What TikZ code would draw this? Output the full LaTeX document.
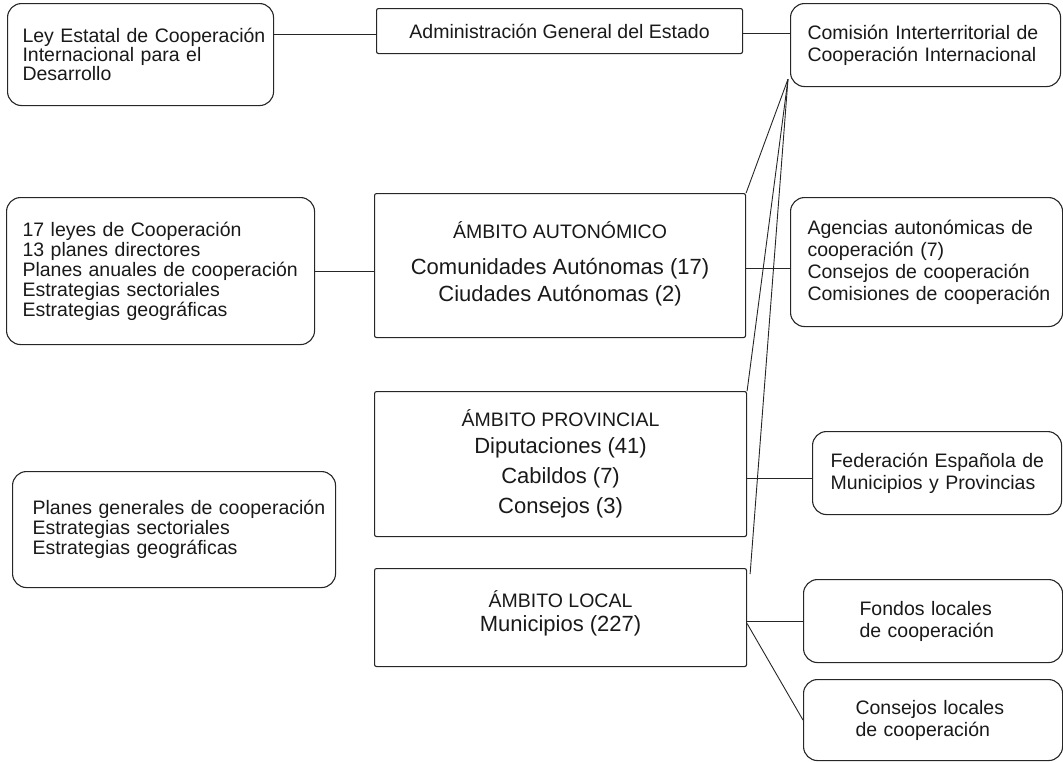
\documentclass[tikz,border=0pt]{standalone}
\usepackage{fontspec}
\setmainfont{Liberation Sans}
% keep each listed line on one row inside a fixed-width box
\newcommand\row[1]{\mbox{#1}}
\begin{document}
\begin{tikzpicture}[x=1pt,y=-1pt,
  body/.style={font=\fontsize{19.5}{20}\selectfont},
  wide/.style={font=\fontsize{19.5}{22}\selectfont},
  rbox/.style={draw=black!85, text=black!90, line width=1.1pt, rounded corners=14pt,
    anchor=north west, align=left, inner ysep=0pt, body},
  sbox/.style={draw=black!85, text=black!90, line width=1.1pt, rounded corners=2pt,
    anchor=north west, align=center, inner sep=0pt, body},
  link/.style={draw=black!85, line width=0.9pt}]
\useasboundingbox (0,0) rectangle (1063,761);

% left column: legal and planning instruments
\node[rbox, font=\fontsize{19.5}{19}\selectfont, inner xsep=15pt, text width=236pt, minimum height=102pt] (ley) at (7,3)
  {\row{Ley Estatal de Cooperación}\\\row{Internacional para el}\\\row{Desarrollo}};
\node[rbox, inner xsep=16pt, text width=276pt, minimum height=147pt] (leyes) at (6,197)
  {\row{17 leyes de Cooperación}\\\row{13 planes directores}\\\row{Planes anuales de cooperación}\\\row{Estrategias sectoriales}\\\row{Estrategias geográficas}};
\node[rbox, inner xsep=20pt, text width=283pt, minimum height=116pt] (planes) at (12,471)
  {\row{Planes generales de cooperación}\\\row{Estrategias sectoriales}\\\row{Estrategias geográficas}};

% central column: administrative levels
\node[sbox, minimum width=366pt, minimum height=45pt] (adm) at (376,8)
  {Administración General del Estado};
\node[sbox, minimum width=371pt, minimum height=144pt, text depth=8pt,
  font=\fontsize{22}{27}\selectfont] (aut) at (374,193)
  {\fontsize{19.5}{20}\selectfont ÁMBITO AUTONÓMICO\\[9pt]Comunidades Autónomas (17)\\Ciudades Autónomas (2)};
\node[sbox, minimum width=372pt, minimum height=145pt,
  font=\fontsize{22}{30}\selectfont] (prov) at (374,391)
  {\fontsize{19.5}{20}\selectfont ÁMBITO PROVINCIAL\\[-3pt]Diputaciones (41)\\Cabildos (7)\\Consejos (3)};
\node[sbox, minimum width=372pt, minimum height=98pt, text depth=14pt,
  font=\fontsize{22}{30}\selectfont] (loc) at (374,568)
  {\fontsize{19.5}{20}\selectfont ÁMBITO LOCAL\\[-6pt]Municipios (227)};

% right column: coordination bodies
\node[rbox, wide, inner xsep=17pt, text width=236pt, minimum height=83pt] (com) at (790,3)
  {\row{Comisión Interterritorial de}\\\row{Cooperación Internacional}};
\node[rbox, wide, inner xsep=17pt, text width=238pt, minimum height=129pt] (ag) at (790,197)
  {\row{Agencias autonómicas de}\\\row{cooperación (7)}\\\row{Consejos de cooperación}\\\row{Comisiones de cooperación}};
\node[rbox, wide, inner xsep=18pt, text width=213pt, minimum height=83pt] (fed) at (812,431)
  {\row{Federación Española de}\\\row{Municipios y Provincias}};
\node[rbox, wide, inner xsep=56pt, text width=147pt, minimum height=83pt] (fon) at (803,579)
  {\row{Fondos locales}\\\row{de cooperación}};
\node[rbox, wide, inner xsep=52pt, text width=155pt, minimum height=81pt] (cons) at (803,679)
  {\row{Consejos locales}\\\row{de cooperación}};

% connectors
\draw[link] (adm.west) ++(0,3.5) coordinate (a1) -- (a1 -| ley.east);
\draw[link] (adm.east) ++(0,2.5) coordinate (a2) -- (a2 -| com.west);
\draw[link] (leyes.east) -- (leyes.east -| aut.west);
\draw[link] (aut.east) ++(0,3) coordinate (a3) -- (a3 -| ag.west);
\draw[link] (fed.west) ++(0,5.5) coordinate (a4) -- (a4 -| prov.east);
\draw[link] (fon.west) ++(0,0.5) coordinate (a5) -- (a5 -| loc.east) coordinate (a6);
\draw[link] (a6) ++(0,2) -- (cons.west);
\coordinate (hub) at ([shift={(-2,-8)}]com.south west);
\draw[link] (hub) -- (aut.north east);
\draw[link] (hub) -- (prov.north east);
\draw[link] (hub) -- ([shift={(3,6)}]loc.north east);
\end{tikzpicture}
\end{document}
